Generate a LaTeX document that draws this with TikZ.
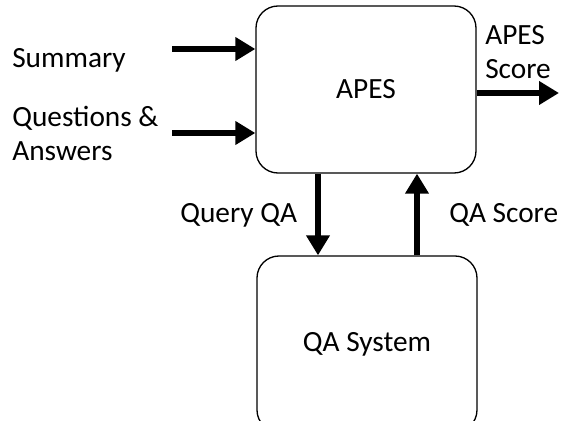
\documentclass[tikz,border=0pt]{standalone}
\usepackage{fontspec}
\setmainfont{Carlito}
\usetikzlibrary{arrows.meta,positioning}

\begin{document}
\begin{tikzpicture}[x=0.75pt,y=-0.75pt,
  box/.style={draw,line width=1pt,rounded corners=16.5pt,minimum width=165pt,inner sep=0pt},
  flow/.style={line width=5.2pt,-{Triangle[length=15pt,width=17pt]}},
  lbl/.style={font=\fontsize{22}{25.5}\selectfont,inner sep=0pt,align=left}]
\useasboundingbox (0,0) rectangle (562,421);
\node[box,minimum height=125.25pt,lbl,align=center] (apes) at (366,89.5) {APES};
\node[box,minimum height=132pt,lbl,align=center] (qa) at (367,344) {QA System};
\node[lbl,anchor=base west] (sum) at (12,67) {Summary};
\node[lbl,anchor=west] (qna) at (12,133) {Questions \&\\Answers};
\node[lbl,anchor=west] (score) at (485,52) {APES\\Score};
\node[lbl,anchor=base west] (query) at (180,222) {Query QA};
\node[lbl,anchor=base west] (qascore) at (449,222) {QA Score};
\coordinate (s0) at (172,49);
\coordinate (a0) at (172,133);
\coordinate (o1) at (559,93);
\coordinate (d) at (318,0);
\coordinate (u) at (417,0);
\draw[flow] (s0)--(s0 -| apes.west);
\draw[flow] (a0)--(a0 -| apes.west);
\draw[flow] (o1 -| apes.east)--(o1);
\draw[flow] (d |- apes.south)--(d |- qa.north);
\draw[flow] (u |- qa.north)--(u |- apes.south);
\end{tikzpicture}
\end{document}
